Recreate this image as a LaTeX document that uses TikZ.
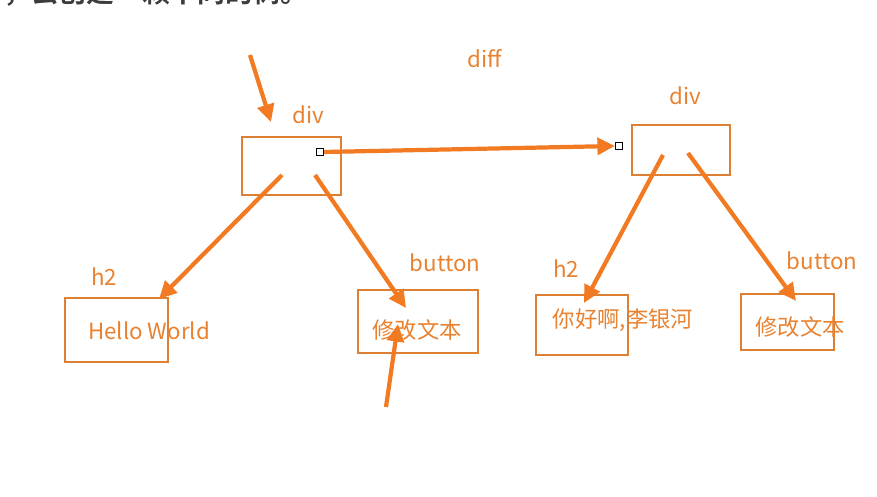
\documentclass[tikz,border=0pt]{standalone}
\usepackage{fontspec}
\setmainfont{Noto Sans CJK SC}
\newfontfamily\cjkbold{Noto Sans CJK SC Bold}
\usetikzlibrary{arrows.meta}
\definecolor{boxc}{RGB}{222,128,52}
\definecolor{arrc}{RGB}{242,122,34}
\definecolor{txtc}{RGB}{232,130,48}
\definecolor{headc}{RGB}{60,60,60}
\tikzset{
  box/.style={draw=boxc,line width=1.1pt},
  lbl/.style={text=txtc,font=\fontsize{12.7}{14}\selectfont,inner sep=0pt},
  arr/.style={draw=arrc,line width=2.4pt,-{Triangle[length=10pt,width=9.5pt]}},
  sq/.style={draw=black,fill=white,line width=0.6pt,minimum size=4pt,inner sep=0pt},
}
\begin{document}
\begin{tikzpicture}[x=0.02cm,y=-0.02cm]
\useasboundingbox (0,0) rectangle (877,497);
\clip (0,0) rectangle (877,497);
\node[anchor=center,text=headc,font=\cjkbold\fontsize{15.8}{17}\selectfont,inner sep=0pt] (head) at (156,-7) {，去创建一颗不同的树。};
% boxes
\draw[box] (242,137) rectangle (341,195);
\draw[box] (632,125) rectangle (730,175);
\draw[box] (65,298) rectangle (168,362);
\draw[box] (358,290) rectangle (478,353);
\draw[box] (536,295) rectangle (628,355);
\draw[box] (741,294) rectangle (834,350);
% labels
\node[lbl] (ldiff) at (485,59) {diff};
\node[lbl] (ldiv1) at (308,115) {div};
\node[lbl] (ldiv2) at (685,96) {div};
\node[lbl] (lh2a) at (104,277) {h2};
\node[lbl] (lbtn1) at (445,263) {button};
\node[lbl] (lh2b) at (566,269) {h2};
\node[lbl] (lbtn2) at (822,261) {button};
\node[lbl] (thw) at (149,331) {Hello World};
\node[lbl] (tb1) at (417,330) {修改文本};
\node[lbl] (th2b) at (623,320) {你好啊,李银河};
\node[lbl] (tb2) at (800,327) {修改文本};
% arrow endpoints
\coordinate (a1s) at (250,55); \coordinate (a1e) at (271,122);
\node[sq] (s1) at (320,152) {};
\node[sq] (s2) at (619,146) {};
\coordinate (a3s) at (282,175); \coordinate (a3e) at (159,299);
\coordinate (a4s) at (315,175); \coordinate (a4e) at (406,308);
\coordinate (a5s) at (386,407); \coordinate (a5e) at (398,324);
\coordinate (a6s) at (663,155); \coordinate (a6e) at (584,303);
\coordinate (a7s) at (688,153); \coordinate (a7e) at (796,301);
\draw[arr] (a1s) -- (a1e);
\draw[arr] (s1.east) -- (s2.west);
\draw[arr] (a3s) -- (a3e);
\draw[arr] (a4s) -- (a4e);
\draw[arr] (a5s) -- (a5e);
\draw[arr] (a6s) -- (a6e);
\draw[arr] (a7s) -- (a7e);
\end{tikzpicture}
\end{document}
